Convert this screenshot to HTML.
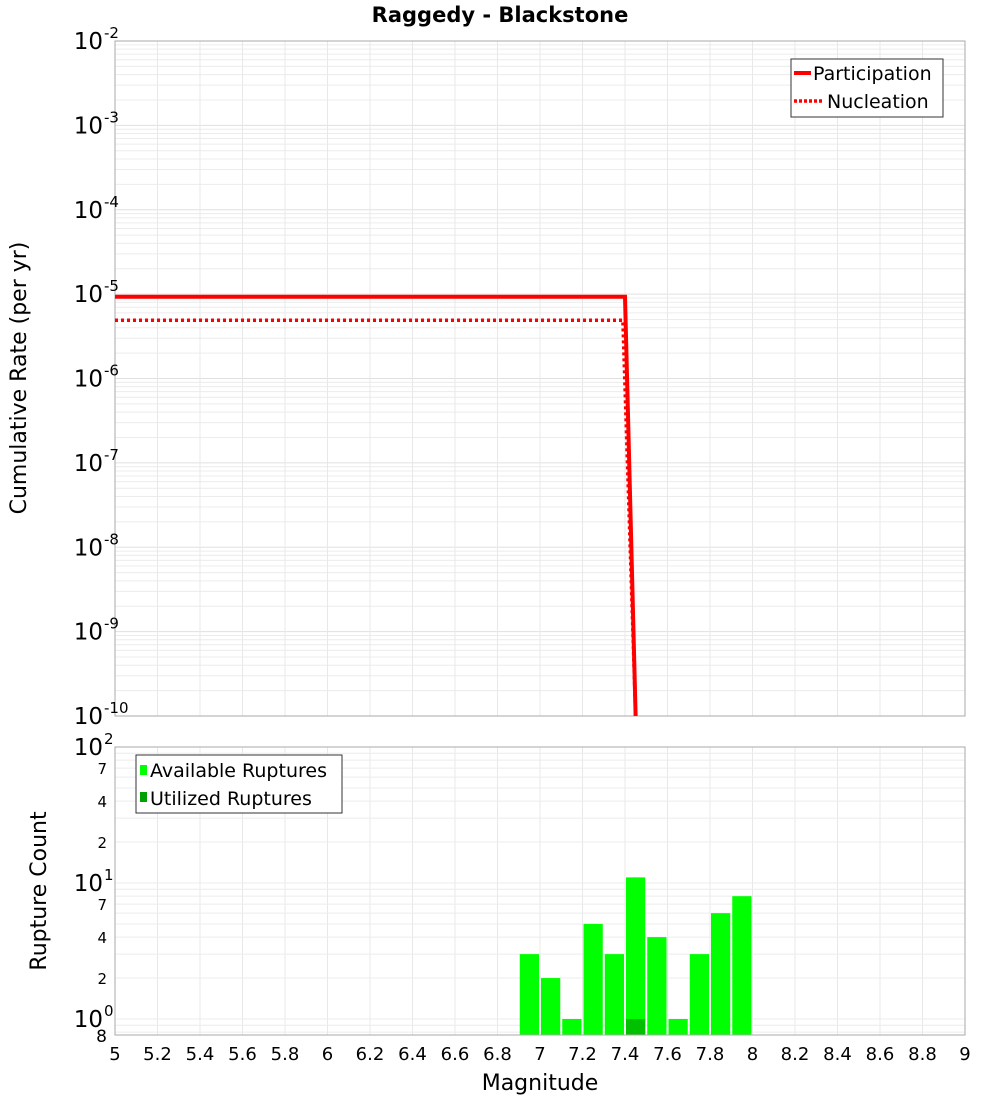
<!DOCTYPE html>
<html><head><meta charset="utf-8"><style>
body{margin:0;background:#fff;font-family:"Liberation Sans","DejaVu Sans",sans-serif}
svg text{font-family:"DejaVu Sans","Liberation Sans",sans-serif}
</style></head><body>
<svg id="c" width="1000" height="1100" xmlns="http://www.w3.org/2000/svg">
<text x="500" y="22" text-anchor="middle" font-size="21" font-weight="bold">Raggedy - Blackstone</text>
<text transform="translate(26,378) rotate(-90)" text-anchor="middle" font-size="22">Cumulative Rate (per yr)</text>
<text transform="translate(46,891) rotate(-90)" text-anchor="middle" font-size="22">Rupture Count</text>
<text x="540" y="1090" text-anchor="middle" font-size="22">Magnitude</text>
<g id="topg"></g><g id="botg"></g>
</svg>
<script>
const partMags=[5,7.4,7.45];
const partRates=[9.3e-6,9.3e-6,1e-10];
const nuclMags=[5,7.39,7.45];
const nuclRates=[4.9e-6,4.9e-6,1e-10];
const binMags=[6.95,7.05,7.15,7.25,7.35,7.45,7.55,7.65,7.75,7.85,7.95];
const availCounts=[3,2,1,5,3,11,4,1,3,6,8];
const utilMags=[7.45];
const utilCounts=[1];
const xTicks=[5,5.2,5.4,5.6,5.8,6,6.2,6.4,6.6,6.8,7,7.2,7.4,7.6,7.8,8,8.2,8.4,8.6,8.8,9];
const topExps=[-2,-3,-4,-5,-6,-7,-8,-9,-10];
const botExps=[2,1,0];
const botMinorLabels=[7,4,2];

const NS="http://www.w3.org/2000/svg";
const L=115,R=965;
const X=m=>L+(m-5)/4*(R-L);
const T0=41,T1=716;
const YT=v=>T0+(-2-Math.log10(v))/8*(T1-T0);
const B0=747,B1=1035,BD=136;
const YB=v=>B0+(2-Math.log10(v))*BD;
function mk(p,tag,a){const e=document.createElementNS(NS,tag);for(const k in a)e.setAttribute(k,a[k]);p.appendChild(e);return e;}
const gTop=document.getElementById('topg'),gBot=document.getElementById('botg');
const svgEl=document.getElementById('c');
const defs=mk(svgEl,'defs',{});
const cp=mk(defs,'clipPath',{id:'ct'});mk(cp,'rect',{x:L,y:T0,width:R-L,height:T1-T0});
const cp2=mk(defs,'clipPath',{id:'cb'});mk(cp2,'rect',{x:L,y:B0,width:R-L,height:B1-B0});

for(const e of topExps){for(let k=1;k<=9;k++){const v=k*Math.pow(10,e);if(e===-2&&k>1)continue;const y=YT(v);if(y<T0-0.5||y>T1+0.5)continue;
 const g=mk(gTop,'line',{x1:L,x2:R,y1:y,y2:y,stroke:k===1?'#e0e0e0':'#ececec','stroke-width':1});
 
 }}
for(const m of xTicks){const x=X(m);
 const g=mk(gTop,'line',{x1:x,x2:x,y1:T0,y2:T1,stroke:'#e8e8e8'});
 
 
 const g2=mk(gBot,'line',{x1:x,x2:x,y1:B0,y2:B1,stroke:'#e8e8e8'});
 
 
 const t=mk(gBot,'text',{x:x,y:1060,'text-anchor':'middle','font-size':18});t.textContent=String(m);
 
 }
const fr=mk(gTop,'rect',{x:L,y:T0,width:R-L,height:T1-T0,fill:'none',stroke:'#aaa'});


for(const e of topExps){const y=YT(Math.pow(10,e));
 const t=mk(gTop,'text',{x:103,y:y+8,'text-anchor':'end','font-size':23});
 
 
 t.textContent='10';
 const s=mk(gTop,'text',{x:104,y:y-3,'font-size':15});s.textContent=String(e);
 
 }
function pts(ms,vs){return ms.map((m,i)=>X(m)+','+YT(vs[i])).join(' ');}
const lp=mk(gTop,'polyline',{points:pts(partMags,partRates),fill:'none',stroke:'#f00','stroke-width':4,'clip-path':'url(#ct)'});


const ln=mk(gTop,'polyline',{points:pts(nuclMags,nuclRates),fill:'none',stroke:'#f00','stroke-width':3.5,'stroke-dasharray':'3 3','clip-path':'url(#ct)'});


const lg=mk(gTop,'g',{});


mk(lg,'rect',{x:791,y:59,width:152,height:58,fill:'#fff',stroke:'#333'});
mk(lg,'line',{x1:794,x2:811,y1:73,y2:73,stroke:'#f00','stroke-width':4});
mk(lg,'line',{x1:794,x2:822,y1:101,y2:101,stroke:'#f00','stroke-width':3.5,'stroke-dasharray':'3 2'});
let t1=mk(lg,'text',{x:813,y:80,'font-size':19});t1.textContent='Participation';
let t2=mk(lg,'text',{x:827,y:108,'font-size':19});t2.textContent='Nucleation';

for(const e of [1,0,-1]){for(let k=1;k<=9;k++){const v=k*Math.pow(10,e);const y=YB(v);if(y<B0||y>B1)continue;
 const g=mk(gBot,'line',{x1:L,x2:R,y1:y,y2:y,stroke:'#ececec'});
 
 }}
const bw=(X(5.1)-X(5))-2;
binMags.forEach((m,i)=>{const y=YB(availCounts[i]);
 const b=mk(gBot,'rect',{x:X(m)-bw/2,y:y,width:bw,height:B1-y,fill:'#00ff00','clip-path':'url(#cb)'});
 
 });
utilMags.forEach((m,i)=>{const y=YB(utilCounts[i]);
 const b=mk(gBot,'rect',{x:X(m)-bw/2,y:y,width:bw,height:B1-y,fill:'#00c000','clip-path':'url(#cb)'});
 
 });
const fb=mk(gBot,'rect',{x:L,y:B0,width:R-L,height:B1-B0,fill:'none',stroke:'#aaa'});


for(const e of botExps){const y=YB(Math.pow(10,e));
 const t=mk(gBot,'text',{x:103,y:y+8,'text-anchor':'end','font-size':23});t.textContent='10';
 
 
 const s=mk(gBot,'text',{x:104,y:y-3,'font-size':15});s.textContent=String(e);
 
 }
for(const e of [1,0]){for(const k of botMinorLabels){const y=YB(k*Math.pow(10,e));
 const t=mk(gBot,'text',{x:107,y:y+6,'text-anchor':'end','font-size':15});t.textContent=String(k);
 
 }}
{const t=mk(gBot,'text',{x:107,y:YB(0.8)+10,'text-anchor':'end','font-size':17});t.textContent='8';
 
 }
const bl=mk(gBot,'g',{});


mk(bl,'rect',{x:136,y:755,width:206,height:58,fill:'#fff',stroke:'#333'});
mk(bl,'rect',{x:140,y:765,width:7,height:10,fill:'#00ff00'});
mk(bl,'rect',{x:140,y:792,width:7,height:10,fill:'#00a000'});
let t3=mk(bl,'text',{x:150,y:777,'font-size':19});t3.textContent='Available Ruptures';
let t4=mk(bl,'text',{x:150,y:805,'font-size':19});t4.textContent='Utilized Ruptures';
</script>
</body></html>
